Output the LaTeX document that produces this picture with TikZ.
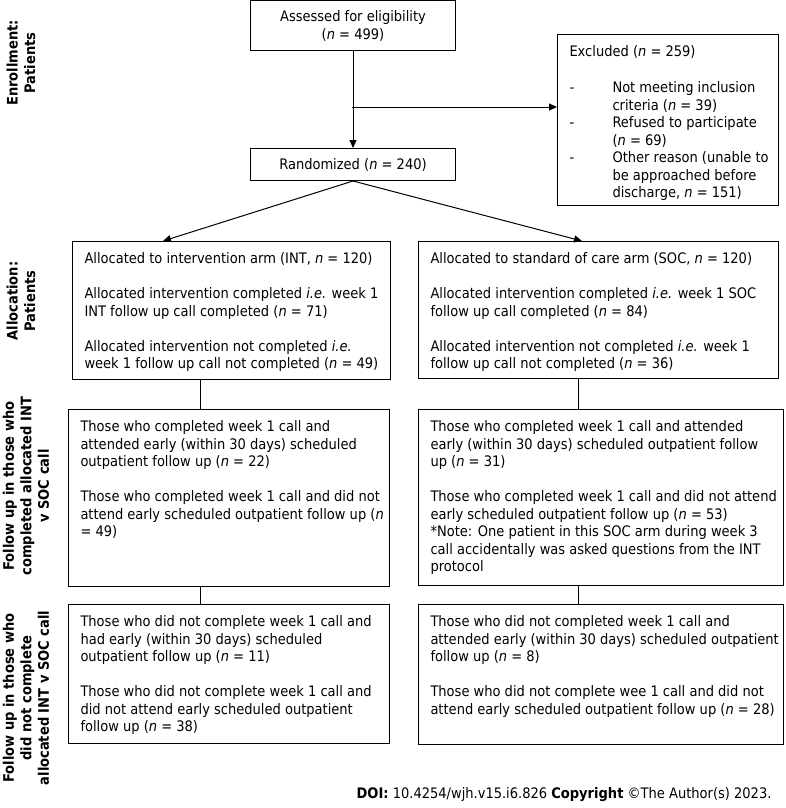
\documentclass[tikz,border=0pt]{standalone}
\usepackage{fontspec}
\setmainfont{DejaVu Sans Condensed}
\usepackage{tikz}
\usetikzlibrary{arrows.meta}
\newcommand{\boxfont}{\fontsize{14.5}{17.5}\selectfont}
\newcommand{\boxtext}[3]{\parbox[t][#2][t]{#1}{\setlength{\parskip}{17.5pt}\raggedright\leftskip=12pt\strut #3}}

\begin{document}
\begin{tikzpicture}[x=1pt,y=-1pt,
    cbox/.style={draw,line width=1pt,anchor=north west,align=center,inner sep=0pt,font=\boxfont},
    tbox/.style={draw,line width=1pt,anchor=north west,inner xsep=0pt,inner ysep=10pt,font=\boxfont},
    side/.style={rotate=90,align=center,font=\boxfont\bfseries},
    arr/.style={line width=1pt,-{Triangle[length=8pt,width=7pt]}},
    line/.style={line width=1pt}]
    \useasboundingbox (0,0) rectangle (785,808);

    % side labels
    \node[side] (lenrol) at (21,63) {Enrollment:\\Patients};
    \node[side] (lalloc) at (21,301) {Allocation:\\Patients};
    \node[side] (lfu) at (26,486) {Follow up in those who\\completed allocated INT\\v SOC call};
    \node[side] (lnf) at (26,698) {Follow up in those who\\did not complete\\allocated INT v SOC call};

    % enrollment
    \node[cbox,minimum width=205pt,minimum height=50pt] (assess) at (250,0.5)
        {Assessed for eligibility\\(\emph{n} = 499)};
    \node[cbox,minimum width=205pt,minimum height=32pt] (rand) at (250,148)
        {Randomized (\emph{n} = 240)};
    \node[tbox] (excl) at (557,34) {\boxtext{221pt}{151pt}{%
        Excluded (\emph{n} = 259)\par
        \begin{tabular}{@{}p{43pt}@{}l@{}}
            - & Not meeting inclusion\\
              & criteria (\emph{n} = 39)\\
            - & Refused to participate\\
              & (\emph{n} = 69)\\
            - & Other reason (unable to\\
              & be approached before\\
              & discharge, \emph{n} = 151)
        \end{tabular}}};

    % allocation
    \node[tbox] (allocint) at (72,241) {\boxtext{318pt}{118pt}{%
        Allocated to intervention arm (INT, \emph{n} = 120)\par
        Allocated intervention completed \emph{i.e.} week 1\\
        INT follow up call completed (\emph{n} = 71)\par
        Allocated intervention not completed \emph{i.e.}\\
        week 1 follow up call not completed (\emph{n} = 49)}};
    \node[tbox] (allocsoc) at (418,241) {\boxtext{360pt}{117pt}{%
        Allocated to standard of care arm (SOC, \emph{n} = 120)\par
        Allocated intervention completed \emph{i.e.} week 1 SOC\\
        follow up call completed (\emph{n} = 84)\par
        Allocated intervention not completed \emph{i.e.} week 1\\
        follow up call not completed (\emph{n} = 36)}};

    % follow up, call completed
    \node[tbox] (fuint) at (68,409) {\boxtext{321pt}{157pt}{%
        Those who completed week 1 call and\\
        attended early (within 30 days) scheduled\\
        outpatient follow up (\emph{n} = 22)\par
        Those who completed week 1 call and did not\\
        attend early scheduled outpatient follow up (\emph{n}\\
        = 49)}};
    \node[tbox] (fusoc) at (418,409) {\boxtext{365pt}{156pt}{%
        Those who completed week 1 call and attended\\
        early (within 30 days) scheduled outpatient follow\\
        up (\emph{n} = 31)\par
        Those who completed week 1 call and did not attend\\
        early scheduled outpatient follow up (\emph{n} = 53)\\
        {*}Note: One patient in this SOC arm during week 3\\
        call accidentally was asked questions from the INT\\
        protocol}};

    % follow up, call not completed
    \node[tbox] (nfint) at (68,604) {\boxtext{321pt}{119pt}{%
        Those who did not complete week 1 call and\\
        had early (within 30 days) scheduled\\
        outpatient follow up (\emph{n} = 11)\par
        Those who did not complete week 1 call and\\
        did not attend early scheduled outpatient\\
        follow up (\emph{n} = 38)}};
    \node[tbox] (nfsoc) at (418,604) {\boxtext{365pt}{120pt}{%
        Those who did not completed week 1 call and\\
        attended early (within 30 days) scheduled outpatient\\
        follow up (\emph{n} = 8)\par
        Those who did not complete wee 1 call and did not\\
        attend early scheduled outpatient follow up (\emph{n} = 28)}};

    % connectors
    \coordinate (split) at (352,107);
    \coordinate (tipint) at (163,0);
    \coordinate (tipsoc) at (582,0);
    \coordinate (colint) at (200,0);
    \coordinate (colsoc) at (578,0);
    \draw[arr] (assess) -- (rand);
    \draw[arr] (split) -- (split -| excl.west);
    \draw[arr] (rand.south) -- (tipint |- allocint.north);
    \draw[arr] (rand.south) -- (tipsoc |- allocsoc.north);
    \draw[line] (colint |- allocint.south) -- (colint |- fuint.north);
    \draw[line] (colint |- fuint.south) -- (colint |- nfint.north);
    \draw[line] (colsoc |- allocsoc.south) -- (colsoc |- fusoc.north);
    \draw[line] (colsoc |- fusoc.south) -- (colsoc |- nfsoc.north);

    % source line
    \node[anchor=east,font=\boxfont] (doi) at (775,795)
        {\textbf{DOI:} 10.4254/wjh.v15.i6.826 \textbf{Copyright} ©The Author(s) 2023.};
\end{tikzpicture}
\end{document}
